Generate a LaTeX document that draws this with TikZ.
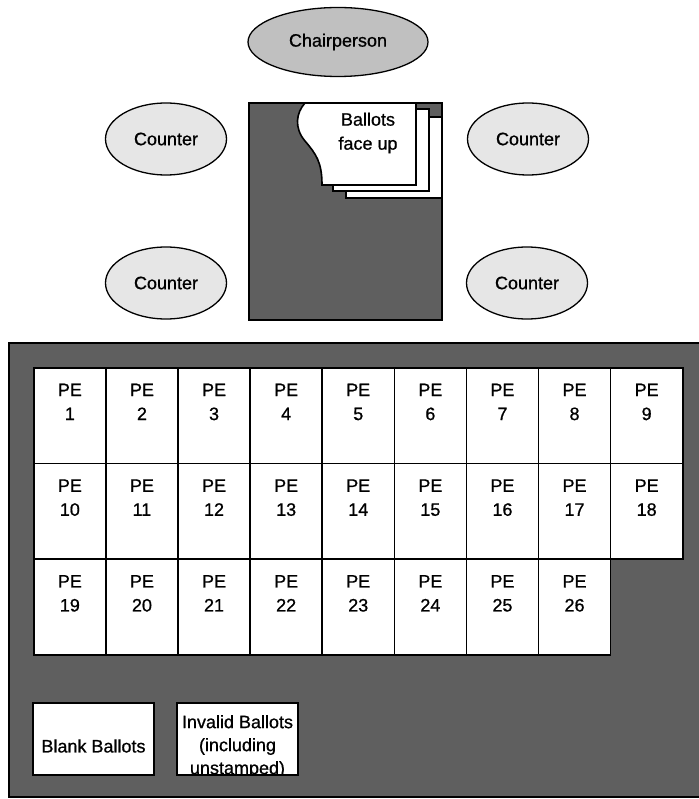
\documentclass[tikz,border=0pt]{standalone}
\usepackage{fontspec}
\setmainfont[FakeBold=0.8]{Liberation Sans}
\usetikzlibrary{shapes.geometric}
\definecolor{tablegray}{RGB}{95,95,95}
\definecolor{chairfill}{RGB}{192,192,192}
\definecolor{counterfill}{RGB}{230,230,230}

\begin{document}
\begin{tikzpicture}[x=1pt,y=-1pt,
  lbl/.style={font=\fontsize{18}{24}\selectfont, align=center},
  seat/.style={ellipse, draw, line width=1.3pt, lbl, inner sep=0pt},
  chair/.style={seat, fill=chairfill, minimum width=180pt, minimum height=69pt},
  counter/.style={seat, fill=counterfill, minimum width=121pt, minimum height=72pt},
  board/.style={draw, fill=tablegray, line width=2pt},
  sheet/.style={draw, fill=white, line width=1.6pt},
  cell/.style={draw, fill=white, line width=1.6pt, minimum width=72.1pt,
    minimum height=95.7pt, inner sep=0pt, anchor=north west},
  tray/.style={draw, fill=white, line width=1.6pt}]
\useasboundingbox (0,0) rectangle (698,799);

% seats around the counting table
\node[chair] (chairperson) at (338,42) {Chairperson};
\node[counter] (counterNW) at (166,139) {Counter};
\node[counter] (counterNE) at (528,139) {Counter};
\node[counter] (counterSW) at (166,283) {Counter};
\node[counter] (counterSE) at (527,283) {Counter};

% counting table with the stack of ballots
\draw[board] (249,103) rectangle (442,320);
\draw[sheet] (346,117) rectangle (442,198);
\draw[sheet] (333,109) rectangle (429,191);
\draw[sheet] (305,103) -- (416,103) -- (416,185) -- (322,185)
  .. controls (322,162) and (316,154) .. (305,141)
  .. controls (294,128) and (296,113) .. cycle;
\node[lbl] (ballots) at (368,133) {Ballots\\face up};

% sorting table
\draw[board] (9,343) rectangle (702,797);
\foreach \r in {0,1,2} {
  \foreach \c in {0,...,8} {
    \pgfmathtruncatemacro\n{9*\r+\c+1}
    \ifnum\n<27
      \node[cell] (pe\n) at ({33+72.1*\c},{367+95.7*\r}) {};
      \node[lbl, inner sep=0pt, anchor=north] (pelabel\n)
        at ([yshift=-16.5pt]pe\n.north) {PE\\\n};
    \fi
  }
}

% trays for blank and invalid ballots
\draw[tray] (33,703) rectangle (154,775);
\node[lbl] (blank) at (93.5,746) {Blank Ballots};
\fill[white] (177,703) rectangle (298,775);
\begin{scope}
  \clip (177,703) rectangle (298,775);
  \node[lbl, font=\fontsize{18}{23}\selectfont] (invalid) at (237.5,746.5)
    {Invalid Ballots\\(including\\unstamped)};
\end{scope}
\draw[line width=1.6pt] (177,703) rectangle (298,775);
\end{tikzpicture}
\end{document}
